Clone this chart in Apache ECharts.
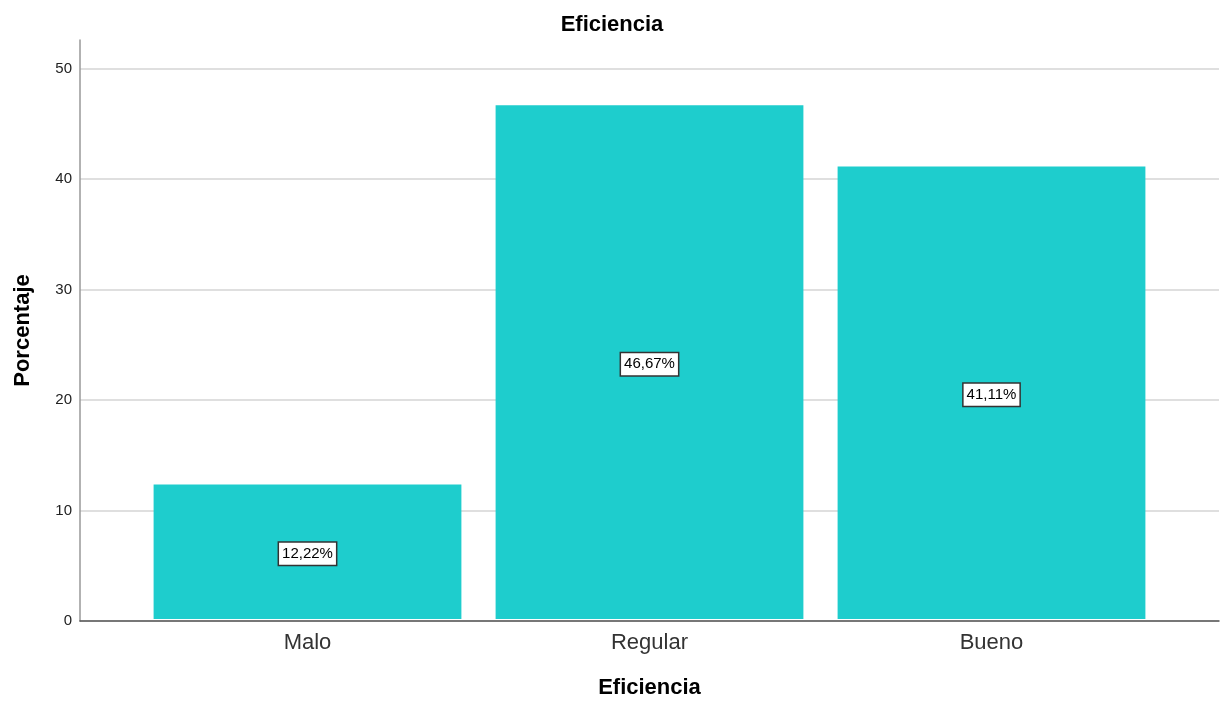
<!DOCTYPE html>
<html>
<head>
<meta charset="utf-8">
<script src="https://cdn.jsdelivr.net/npm/echarts@6/dist/echarts.min.js"></script>
<style>html,body{margin:0;padding:0;background:#fff}#c{width:1224px;height:704px}</style>
</head>
<body>
<div id="c"></div>
<script>
const categories = ['Malo', 'Regular', 'Bueno'];
const values = [12.22, 46.67, 41.11];
const yTicks = [0, 10, 20, 30, 40, 50];
const title = 'Eficiencia';
const xName = 'Eficiencia';
const yName = 'Porcentaje';

const chart = echarts.init(document.getElementById('c'));
const FONT = 'Liberation Sans, Arial, sans-serif';
const YMAX = 52.6;
chart.setOption({
  animation: false,
  title: {
    text: title, left: 'center', top: 9,
    textStyle: { fontFamily: FONT, fontSize: 22, fontWeight: 'bold', color: '#000' }
  },
  grid: [
    { left: 80, right: 5, top: 40, bottom: 83 },
    { left: 136.5, right: 61.5, top: 40, bottom: 83 }
  ],
  xAxis: [
    { gridIndex: 0, type: 'value', min: 0, max: 1,
      axisLine: { show: true, lineStyle: { color: '#555', width: 1.5 } },
      axisTick: { show: false }, axisLabel: { show: false }, splitLine: { show: false } },
    { gridIndex: 1, type: 'category', data: categories,
      axisLine: { show: false }, axisTick: { show: false },
      axisLabel: { fontFamily: FONT, fontSize: 22, color: '#333', margin: 13 },
      name: xName, nameLocation: 'middle', nameGap: 58,
      nameTextStyle: { fontFamily: FONT, fontSize: 22, fontWeight: 'bold', color: '#000' } }
  ],
  yAxis: [
    { gridIndex: 0, type: 'value', min: 0, max: YMAX, interval: 10,
      axisLine: { show: true, lineStyle: { color: '#999', width: 1.5 } },
      axisTick: { show: false, customValues: yTicks },
      axisLabel: { customValues: yTicks, fontFamily: FONT, fontSize: 15, color: '#222', margin: 8 },
      splitLine: { show: true, lineStyle: { color: '#d4d4d4', width: 1.5 } },
      name: yName, nameLocation: 'middle', nameGap: 46, nameRotate: 90,
      nameTextStyle: { fontFamily: FONT, fontSize: 22, fontWeight: 'bold', color: '#000' } },
    { gridIndex: 1, type: 'value', min: 0, max: YMAX, show: false, splitLine: { show: false } }
  ],
  series: [{
    type: 'bar', xAxisIndex: 1, yAxisIndex: 1,
    data: values, barCategoryGap: '10%',
    itemStyle: { color: '#1ecdcd' },
    label: {
      show: true, position: 'inside', offset: [0, 2],
      formatter: p => p.value.toFixed(2).replace('.', ',') + '%',
      fontFamily: FONT, fontSize: 15, color: '#000',
      backgroundColor: '#fff', borderColor: '#333', borderWidth: 1.5,
      padding: [4, 3, 3, 3]
    }
  }]
});
</script>
</body>
</html>
